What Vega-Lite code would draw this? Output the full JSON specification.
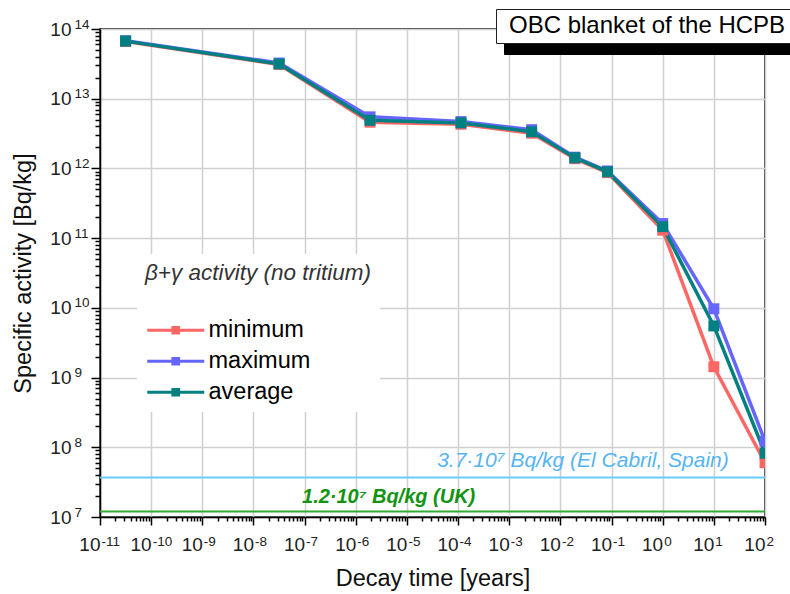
{
  "$schema": "https://vega.github.io/schema/vega-lite/v6.json",
  "width": 665,
  "height": 488,
  "autosize": "none",
  "padding": {"left": 100, "top": 29, "right": 25, "bottom": 77},
  "background": "white",
  "config": {
    "font": "Liberation Sans",
    "view": {"stroke": "black", "strokeWidth": 1.5}
  },
  "datasets": {
    "activity": [
      {"t": 3.17e-11, "series": "minimum", "activity": 6.6e13},
      {"t": 3.17e-8, "series": "minimum", "activity": 3.1e13},
      {"t": 1.9e-6, "series": "minimum", "activity": 4.6e12},
      {"t": 1.14e-4, "series": "minimum", "activity": 4.3e12},
      {"t": 2.74e-3, "series": "minimum", "activity": 3.2e12},
      {"t": 0.0192, "series": "minimum", "activity": 1.38e12},
      {"t": 0.0833, "series": "minimum", "activity": 8.7e11},
      {"t": 1, "series": "minimum", "activity": 1.3e11},
      {"t": 10, "series": "minimum", "activity": 1.43e9},
      {"t": 100, "series": "minimum", "activity": 6.0e7},
      {"t": 3.17e-11, "series": "maximum", "activity": 6.8e13},
      {"t": 3.17e-8, "series": "maximum", "activity": 3.25e13},
      {"t": 1.9e-6, "series": "maximum", "activity": 5.5e12},
      {"t": 1.14e-4, "series": "maximum", "activity": 4.7e12},
      {"t": 2.74e-3, "series": "maximum", "activity": 3.6e12},
      {"t": 0.0192, "series": "maximum", "activity": 1.45e12},
      {"t": 0.0833, "series": "maximum", "activity": 9.2e11},
      {"t": 1, "series": "maximum", "activity": 1.62e11},
      {"t": 10, "series": "maximum", "activity": 9.7e9},
      {"t": 100, "series": "maximum", "activity": 1.22e8},
      {"t": 3.17e-11, "series": "average", "activity": 6.7e13},
      {"t": 3.17e-8, "series": "average", "activity": 3.15e13},
      {"t": 1.9e-6, "series": "average", "activity": 4.9e12},
      {"t": 1.14e-4, "series": "average", "activity": 4.5e12},
      {"t": 2.74e-3, "series": "average", "activity": 3.35e12},
      {"t": 0.0192, "series": "average", "activity": 1.42e12},
      {"t": 0.0833, "series": "average", "activity": 8.95e11},
      {"t": 1, "series": "average", "activity": 1.46e11},
      {"t": 10, "series": "average", "activity": 5.5e9},
      {"t": 100, "series": "average", "activity": 8.2e7}
    ],
    "limits": [
      {"site": "El Cabril", "level": 3.7e7, "label": "3.7·10⁷ Bq/kg (El Cabril, Spain)"},
      {"site": "UK", "level": 1.2e7, "label": "1.2·10⁷ Bq/kg (UK)"}
    ]
  },
  "resolve": {"axis": {"x": "independent", "y": "independent"}},
  "layer": [
    {
      "data": {"name": "activity"},
      "mark": {
        "type": "line",
        "strokeWidth": 3.5,
        "clip": true,
        "point": {"shape": "square", "size": 120, "filled": true, "opacity": 1, "clip": true}
      },
      "encoding": {
        "x": {
          "field": "t",
          "type": "quantitative",
          "scale": {"type": "log", "domain": [1e-11, 100], "nice": false},
          "axis": {
            "orient": "bottom",
            "title": "Decay time [years]",
            "titleFontSize": 23.5,
            "titleFontWeight": "normal",
            "titleColor": "#111111",
            "titlePadding": 12,
            "values": [1e-11,2e-11,3e-11,4e-11,5e-11,6e-11,7e-11,8e-11,9e-11,
                       1e-10,2e-10,3e-10,4e-10,5e-10,6e-10,7e-10,8e-10,9e-10,
                       1e-9,2e-9,3e-9,4e-9,5e-9,6e-9,7e-9,8e-9,9e-9,
                       1e-8,2e-8,3e-8,4e-8,5e-8,6e-8,7e-8,8e-8,9e-8,
                       1e-7,2e-7,3e-7,4e-7,5e-7,6e-7,7e-7,8e-7,9e-7,
                       1e-6,2e-6,3e-6,4e-6,5e-6,6e-6,7e-6,8e-6,9e-6,
                       1e-5,2e-5,3e-5,4e-5,5e-5,6e-5,7e-5,8e-5,9e-5,
                       1e-4,2e-4,3e-4,4e-4,5e-4,6e-4,7e-4,8e-4,9e-4,
                       1e-3,2e-3,3e-3,4e-3,5e-3,6e-3,7e-3,8e-3,9e-3,
                       0.01,0.02,0.03,0.04,0.05,0.06,0.07,0.08,0.09,
                       0.1,0.2,0.3,0.4,0.5,0.6,0.7,0.8,0.9,
                       1,2,3,4,5,6,7,8,9,
                       10,20,30,40,50,60,70,80,90,
                       100],
            "labelExpr": "abs(log(datum.value)/LN10 - round(log(datum.value)/LN10)) < 0.001 ? '10' : ''",
            "labelAlign": "right",
            "labelFontSize": 19,
            "labelColor": "#222222",
            "labelOverlap": false,
            "labelFlush": false,
            "labelBound": false,
            "labelPadding": 10,
            "tickSize": {"condition": {"test": "abs(log(datum.value)/LN10 - round(log(datum.value)/LN10)) < 0.001", "value": 8}, "value": 4},
            "tickColor": "black",
            "tickWidth": 1.5,
            "domainColor": "black",
            "domainWidth": 1.5,
            "gridColor": "#d0d0d0",
            "gridWidth": 1.5,
            "gridOpacity": {"condition": {"test": "abs(log(datum.value)/LN10 - round(log(datum.value)/LN10)) < 0.001", "value": 1}, "value": 0}
          }
        },
        "y": {
          "field": "activity",
          "type": "quantitative",
          "scale": {"type": "log", "domain": [1e7, 1e14], "nice": false},
          "axis": {
            "orient": "left",
            "title": "Specific activity [Bq/kg]",
            "titleFontSize": 23.5,
            "titleFontWeight": "normal",
            "titleColor": "#111111",
            "titlePadding": 14,
            "values": [1e7,2e7,3e7,4e7,5e7,6e7,7e7,8e7,9e7,
                       1e8,2e8,3e8,4e8,5e8,6e8,7e8,8e8,9e8,
                       1e9,2e9,3e9,4e9,5e9,6e9,7e9,8e9,9e9,
                       1e10,2e10,3e10,4e10,5e10,6e10,7e10,8e10,9e10,
                       1e11,2e11,3e11,4e11,5e11,6e11,7e11,8e11,9e11,
                       1e12,2e12,3e12,4e12,5e12,6e12,7e12,8e12,9e12,
                       1e13,2e13,3e13,4e13,5e13,6e13,7e13,8e13,9e13,
                       1e14],
            "labelExpr": "abs(log(datum.value)/LN10 - round(log(datum.value)/LN10)) < 0.001 ? '10' : ''",
            "labelAlign": "right",
            "labelFontSize": 19,
            "labelColor": "#222222",
            "labelOverlap": false,
            "labelFlush": false,
            "labelBound": false,
            "labelPadding": 20,
            "tickSize": {"condition": {"test": "abs(log(datum.value)/LN10 - round(log(datum.value)/LN10)) < 0.001", "value": 9}, "value": 5},
            "tickColor": "black",
            "tickWidth": 1.5,
            "domainColor": "black",
            "domainWidth": 1.5,
            "gridColor": "#d0d0d0",
            "gridWidth": 1.5,
            "gridOpacity": {"condition": {"test": "abs(log(datum.value)/LN10 - round(log(datum.value)/LN10)) < 0.001", "value": 1}, "value": 0}
          }
        },
        "color": {
          "field": "series",
          "type": "nominal",
          "scale": {"domain": ["minimum", "maximum", "average"], "range": ["#FF6666", "#6666FF", "#008080"]},
          "legend": {
            "title": "β+γ activity (no tritium)",
            "orient": "none",
            "legendX": 37,
            "legendY": 225,
            "padding": 8,
            "fillColor": "white",
            "titleFontSize": 22.5,
            "titleFontStyle": "italic",
            "titleFontWeight": "normal",
            "titleColor": "#333333",
            "titlePadding": 34,
            "titleLimit": 400,
            "labelFontSize": 23.5,
            "labelColor": "black",
            "labelOffset": 40,
            "rowPadding": 6,
            "symbolType": "M-1,0H5M1.7,-0.3H2.3V0.3H1.7Z",
            "symbolSize": 361,
            "symbolStrokeWidth": 3,
            "symbolOpacity": 1,
            "encode": {"symbols": {"update": {"fill": {"scale": "color", "field": "value"}, "stroke": {"scale": "color", "field": "value"}}}}
          }
        }
      }
    },
    {
      "data": {"name": "limits"},
      "mark": {"type": "rule", "strokeWidth": 2},
      "encoding": {
        "y": {"field": "level", "type": "quantitative", "scale": {"type": "log", "domain": [1e7, 1e14], "nice": false}, "axis": null},
        "stroke": {"field": "site", "type": "nominal", "scale": {"domain": ["El Cabril", "UK"], "range": ["#66CCFF", "#33AA33"]}, "legend": null}
      }
    },
    {
      "data": {"name": "limits"},
      "transform": [{"filter": "datum.site === 'El Cabril'"}],
      "mark": {"type": "text", "align": "left", "baseline": "alphabetic", "dy": -10, "fontSize": 21, "fontStyle": "italic", "color": "#55B4F5"},
      "encoding": {
        "x": {
          "datum": 3.9e-5,
          "type": "quantitative",
          "scale": {"type": "log", "domain": [1e-11, 100], "nice": false},
          "axis": {
            "orient": "bottom",
            "title": null,
            "values": [1e-11,1e-10,1e-9,1e-8,1e-7,1e-6,1e-5,1e-4,1e-3,0.01,0.1,1,10,100],
            "labelExpr": "'' + round(log(datum.value)/LN10)",
            "labelAlign": "left",
            "labelOffset": 1,
            "labelFontSize": 13.5,
            "labelColor": "#222222",
            "labelOverlap": false,
            "labelFlush": false,
            "labelBound": false,
            "labelPadding": 17,
            "ticks": true,
            "tickSize": 0,
            "tickOpacity": 0,
            "domain": false,
            "grid": false
          }
        },
        "y": {
          "field": "level",
          "type": "quantitative",
          "scale": {"type": "log", "domain": [1e7, 1e14], "nice": false},
          "axis": {
            "orient": "left",
            "title": null,
            "values": [1e7,1e8,1e9,1e10,1e11,1e12,1e13,1e14],
            "labelExpr": "'' + round(log(datum.value)/LN10)",
            "labelAlign": "left",
            "labelBaseline": "middle",
            "labelOffset": -5,
            "labelFontSize": 13.5,
            "labelColor": "#222222",
            "labelOverlap": false,
            "labelFlush": false,
            "labelBound": false,
            "labelPadding": 26,
            "ticks": true,
            "tickSize": 0,
            "tickOpacity": 0,
            "domain": false,
            "grid": false
          }
        },
        "text": {"field": "label"}
      }
    },
    {
      "data": {"name": "limits"},
      "transform": [{"filter": "datum.site === 'UK'"}],
      "mark": {"type": "text", "align": "left", "baseline": "alphabetic", "dy": -8, "fontSize": 20, "fontStyle": "italic", "fontWeight": "bold", "color": "#129312"},
      "encoding": {
        "x": {"datum": 8.9e-8, "type": "quantitative", "scale": {"type": "log", "domain": [1e-11, 100], "nice": false}, "axis": null},
        "y": {"field": "level", "type": "quantitative", "scale": {"type": "log", "domain": [1e7, 1e14], "nice": false}, "axis": null},
        "text": {"field": "label"}
      }
    },
    {
      "data": {"values": [{"caption": "OBC blanket of the HCPB"}]},
      "mark": {"type": "point", "fillOpacity": 0, "strokeOpacity": 0, "size": 0},
      "encoding": {
        "opacity": {
          "field": "caption",
          "type": "ordinal",
          "scale": {"range": [0]},
          "legend": {
            "title": null,
            "orient": "none",
            "legendX": 404,
            "legendY": -7,
            "padding": 0,
            "fillColor": "black",
            "strokeColor": "black",
            "labelExpr": "''",
            "labelOffset": 0,
            "symbolType": "M-1,-1.42H23.5V1.42H-1Z",
            "symbolSize": 576,
            "symbolFillColor": "black",
            "symbolStrokeColor": "black",
            "symbolStrokeWidth": 1,
            "symbolOpacity": 1,
            "encode": {"symbols": {"update": {"opacity": {"value": 1}, "fill": {"value": "black"}, "fillOpacity": {"value": 1}, "size": {"value": 576}, "shape": {"value": "M-1,-1.42H23.5V1.42H-1Z"}}}},
            "zindex": 0
          }
        }
      }
    },
    {
      "data": {"values": [{"panel": "OBC blanket of the HCPB"}]},
      "mark": {"type": "point", "opacity": 0, "size": 0},
      "encoding": {
        "shape": {
          "field": "panel",
          "type": "nominal",
          "legend": {
            "title": null,
            "orient": "none",
            "legendX": 396,
            "legendY": -20,
            "padding": 5,
            "fillColor": "white",
            "strokeColor": "#222222",
            "labelFontSize": 24,
            "labelColor": "black",
            "labelOffset": -16,
            "labelLimit": 400,
            "symbolSize": 0,
            "symbolOpacity": 0,
            "zindex": 1
          }
        }
      }
    }
  ]
}
